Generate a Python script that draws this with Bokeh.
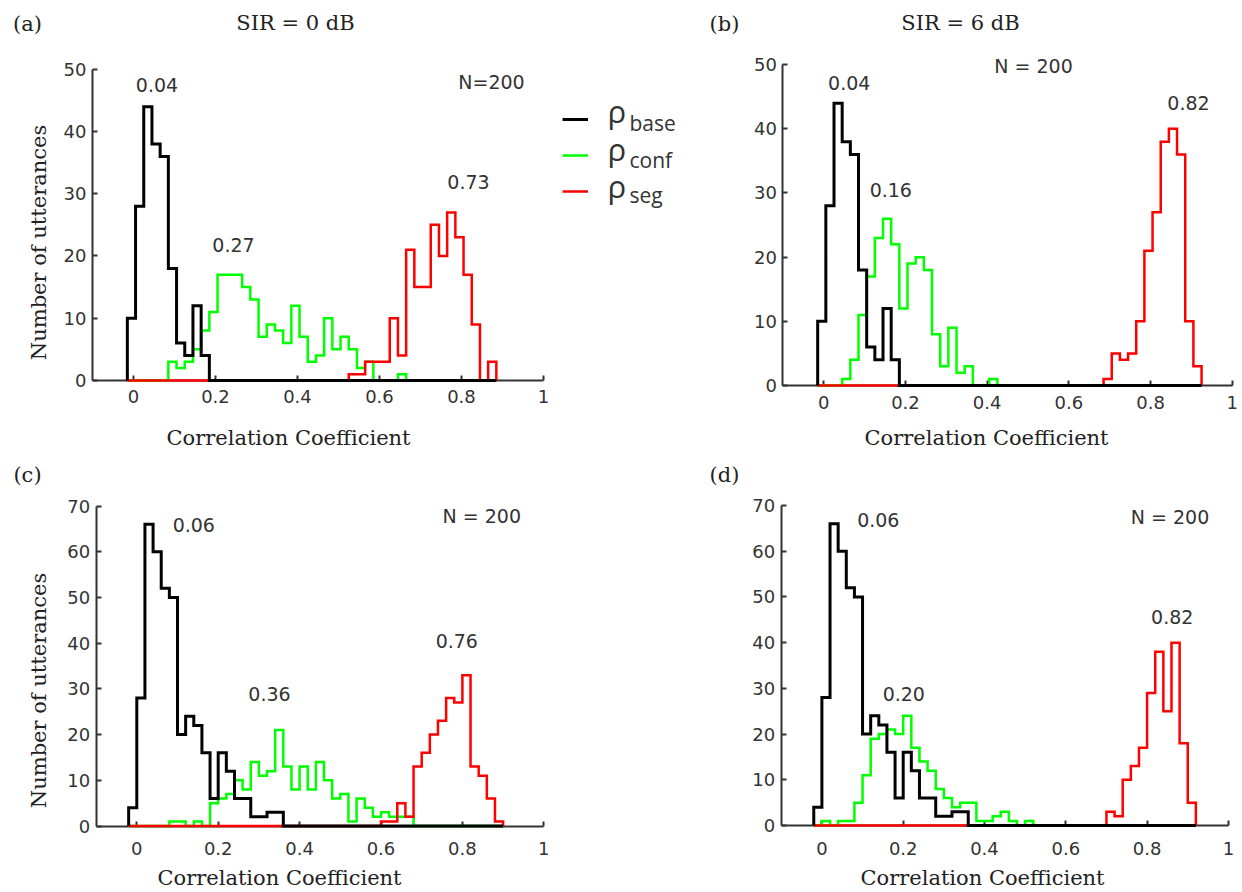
import numpy as np
from bokeh.plotting import figure
from bokeh.models import Range1d, FixedTicker, Label, Legend, LegendItem
from bokeh.layouts import column, row
from bokeh.embed import file_html
from bokeh.resources import INLINE

# ---------------- data ----------------
BIN_WIDTH = 0.02
X_TICKS = [0, 0.2, 0.4, 0.6, 0.8, 1]
X_TICK_LABELS = ["0", "0.2", "0.4", "0.6", "0.8", "1"]
Y_TICKS_TOP = [0, 10, 20, 30, 40, 50]
Y_TICKS_BOTTOM = [0, 10, 20, 30, 40, 50, 60, 70]

# left edge of bin 0 in each row of panels
BIN_START_TOP = -0.015
BIN_START_BOTTOM = -0.02

# counts per bin, with index of first listed bin
BASE_AB = [10, 28, 44, 38, 36, 18, 6, 4, 12, 4]
BASE_AB_FIRST = 0
CONF_A = [3, 2, 3, 5, 8, 11, 17, 17, 17, 15, 13, 7, 9, 8, 6, 12, 7, 3, 4, 10, 5, 7, 5, 2, 3, 0, 0, 0, 1]
CONF_A_FIRST = 5
SEG_A = [1, 1, 3, 3, 3, 10, 4, 21, 15, 15, 25, 20, 27, 23, 17, 9, 0, 3]
SEG_A_FIRST = 27
CONF_B = [1, 4, 11, 17, 23, 26, 22, 12, 19, 20, 18, 8, 3, 9, 2, 3, 0, 0, 1]
CONF_B_FIRST = 3
SEG_B = [1, 5, 4, 5, 10, 21, 27, 38, 40, 36, 10, 3]
SEG_B_FIRST = 35

BASE_CD = [4, 28, 66, 60, 52, 50, 20, 24, 22, 16, 6, 16, 12, 6, 6, 2, 2, 3, 3]
BASE_CD_FIRST = 0
CONF_C = [1, 1, 0, 1, 0, 5, 6, 7, 10, 8, 14, 11, 12, 21, 13, 8, 13, 8, 14, 10, 6, 7, 1, 6, 4, 2, 3, 2, 2, 2]
CONF_C_FIRST = 5
SEG_C = [1, 1, 5, 2, 13, 16, 20, 23, 28, 27, 33, 13, 11, 6, 1]
SEG_C_FIRST = 31
CONF_D = [1, 0, 1, 1, 5, 11, 19, 20, 21, 20, 24, 17, 14, 12, 8, 6, 4, 5, 5, 1, 1, 2, 3, 1, 0, 1]
CONF_D_FIRST = 1
SEG_D = [3, 2, 10, 13, 17, 29, 38, 25, 40, 18, 5]
SEG_D_FIRST = 36

MEDIANS_A = ["0.04", "0.27", "0.73"]
MEDIANS_B = ["0.04", "0.16", "0.82"]
MEDIANS_C = ["0.06", "0.36", "0.76"]
MEDIANS_D = ["0.06", "0.20", "0.82"]
N_TEXT = ["N=200", "N = 200", "N = 200", "N = 200"]
PANEL_TAGS = ["(a)", "(b)", "(c)", "(d)"]
TITLES = ["SIR = 0 dB", "SIR = 6 dB"]
SERIES_SUBS = ["base", "conf", "seg"]

# ---------------- layout (page pixels) ----------------
COLORS = {"base": "#000000", "conf": "#00ff00", "seg": "#ff0000"}
WIDTHS = {"base": 3, "conf": 2.5, "seg": 2.5}
SANS = "DejaVu Sans"
SERIF = "DejaVu Serif"
TXT = "#333333"

PANELS = {
    "a": dict(left=0, top=0, width=700, height=452, x0=133.0, xs=410.0, y0=379.9, ys=6.222),
    "b": dict(left=700, top=0, width=542, height=452, x0=823.3, xs=408.4, y0=385.0, ys=6.417),
    "c": dict(left=0, top=452, width=700, height=440, x0=136.3, xs=407.0, y0=825.5, ys=4.571),
    "d": dict(left=700, top=452, width=542, height=440, x0=821.4, xs=406.5, y0=825.0, ys=4.571),
}


def dx(g, px):
    return (px - g["x0"]) / g["xs"]


def dy(g, py):
    return (g["y0"] - py) / g["ys"]


def stairs(first, counts, n_total, start):
    full = np.zeros(n_total)
    full[first:first + len(counts)] = counts
    edges = start + BIN_WIDTH * np.arange(n_total + 1)
    xs = np.concatenate([[edges[0]], edges])
    ys = np.concatenate([[0.0], full, [0.0]])
    return xs, ys


def text_label(p, g, px, py, text, font, size, color, align="center", angle=0.0):
    p.add_layout(Label(x=dx(g, px), y=dy(g, py), text=text, text_font=font,
                       text_font_size=size, text_color=color, angle=angle,
                       text_align=align, text_baseline="middle"))


def make_panel(key, series, start, yticks, ylabel, texts, xlabel_pos, ylabel_pos, tag_pos, title_pos, title):
    g = PANELS[key]
    x_rng = Range1d(dx(g, g["left"]), dx(g, g["left"] + g["width"]))
    y_rng = Range1d(dy(g, g["top"] + g["height"]), dy(g, g["top"]))
    p = figure(width=g["width"], height=g["height"], x_range=x_rng, y_range=y_rng,
               output_backend="svg", toolbar_location=None, min_border=0, title=None)
    p.grid.visible = False
    p.outline_line_color = None
    p.background_fill_color = "white"
    p.border_fill_color = "white"

    n_total = max(first + len(c) for _, first, c in series)
    rends = {}
    for name in ["conf", "seg", "base"]:
        for nm, first, c in series:
            if nm == name:
                xs, ys = stairs(first, c, n_total, start)
                rends[name] = p.step(xs, ys, mode="after", line_color=COLORS[name],
                                     line_width=WIDTHS[name], line_join="miter")

    xa = p.xaxis[0]
    ya = p.yaxis[0]
    xa.fixed_location = 0
    ya.fixed_location = -0.1
    xa.bounds = (-0.1, 1)
    ya.bounds = (0, yticks[-1])
    xa.ticker = FixedTicker(ticks=X_TICKS)
    xa.major_label_overrides = dict(zip(X_TICKS, X_TICK_LABELS))
    ya.ticker = FixedTicker(ticks=yticks)
    for ax in (xa, ya):
        ax.level = "underlay"
        ax.axis_line_color = "#333333"
        ax.axis_line_width = 2
        ax.major_tick_line_color = "#333333"
        ax.major_tick_line_width = 2
        ax.major_tick_in = 5
        ax.major_tick_out = 0
        ax.minor_tick_line_color = None
        ax.major_label_text_font = SANS
        ax.major_label_text_font_size = "18px"
        ax.major_label_text_color = TXT
    xa.major_label_standoff = 10 if key in "ab" else 16
    ya.major_label_standoff = 6

    for txt, (px, py) in texts:
        text_label(p, g, px, py, txt, SANS, "19px", TXT)
    text_label(p, g, xlabel_pos[0], xlabel_pos[1], "Correlation Coefficient", SERIF, "21px", "#222222")
    if ylabel:
        text_label(p, g, ylabel_pos[0], ylabel_pos[1], "Number of utterances", SERIF, "21px",
                   "#222222", angle=np.pi / 2)
    text_label(p, g, tag_pos[0], tag_pos[1], PANEL_TAGS["abcd".index(key)], SERIF, "21px", "#222222")
    if title:
        text_label(p, g, title_pos[0], title_pos[1], title, SERIF, "21px", "#222222")
    return p, rends, g


pa, ra, ga = make_panel(
    "a", [("base", BASE_AB_FIRST, BASE_AB), ("conf", CONF_A_FIRST, CONF_A), ("seg", SEG_A_FIRST, SEG_A)],
    BIN_START_TOP, Y_TICKS_TOP, True,
    list(zip(MEDIANS_A + [N_TEXT[0]], [(156.5, 84.5), (233, 244.7), (468, 181), (491, 81.5)])),
    (288, 437), (38, 242), (27, 23), (295, 22.5), TITLES[0])
pb, rb, gb = make_panel(
    "b", [("base", BASE_AB_FIRST, BASE_AB), ("conf", CONF_B_FIRST, CONF_B), ("seg", SEG_B_FIRST, SEG_B)],
    BIN_START_TOP, Y_TICKS_TOP, False,
    list(zip(MEDIANS_B + [N_TEXT[1]], [(848.7, 82.5), (890.3, 189.5), (1188, 102), (1033, 65)])),
    (986, 437), None, (724, 23), (960, 22.5), TITLES[1])
pc, rc, gc = make_panel(
    "c", [("base", BASE_CD_FIRST, BASE_CD), ("conf", CONF_C_FIRST, CONF_C), ("seg", SEG_C_FIRST, SEG_C)],
    BIN_START_BOTTOM, Y_TICKS_BOTTOM, True,
    list(zip(MEDIANS_C + [N_TEXT[2]], [(193.3, 524.5), (269, 693), (456.3, 640.5), (481.3, 515)])),
    (279, 877), (38, 690), (27, 474), None, None)
pd_, rd, gd = make_panel(
    "d", [("base", BASE_CD_FIRST, BASE_CD), ("conf", CONF_D_FIRST, CONF_D), ("seg", SEG_D_FIRST, SEG_D)],
    BIN_START_BOTTOM, Y_TICKS_BOTTOM, False,
    list(zip(MEDIANS_D + [N_TEXT[3]], [(877.8, 519.5), (903.3, 693.5), (1171.7, 616.5), (1169.5, 516.5)])),
    (982, 877), None, (724, 474), None, None)

# legend (in panel a, to the right of its axes)
legend = Legend(
    items=[LegendItem(label=" ", renderers=[ra[n]]) for n in ["base", "conf", "seg"]],
    location=(562, ga["height"] - 199), orientation="vertical", padding=0, margin=0,
    spacing=20, glyph_width=26, glyph_height=16, label_height=16, label_width=0,
    label_standoff=0, label_text_font_size="1px", border_line_color=None,
    background_fill_alpha=0)
pa.add_layout(legend)
for i, (rho_y, sub_y) in enumerate([(110, 122.5), (148.5, 159.5), (185, 194.5)]):
    text_label(pa, ga, 607, rho_y, "ρ", "Open Sans", "31px", TXT, align="left")
    text_label(pa, ga, 629, sub_y, SERIES_SUBS[i], "Open Sans", "21px", TXT, align="left")

layout = column(row(pa, pb, spacing=0), row(pc, pd_, spacing=0), spacing=0)
open("out.html", "w").write(file_html(layout, INLINE))
